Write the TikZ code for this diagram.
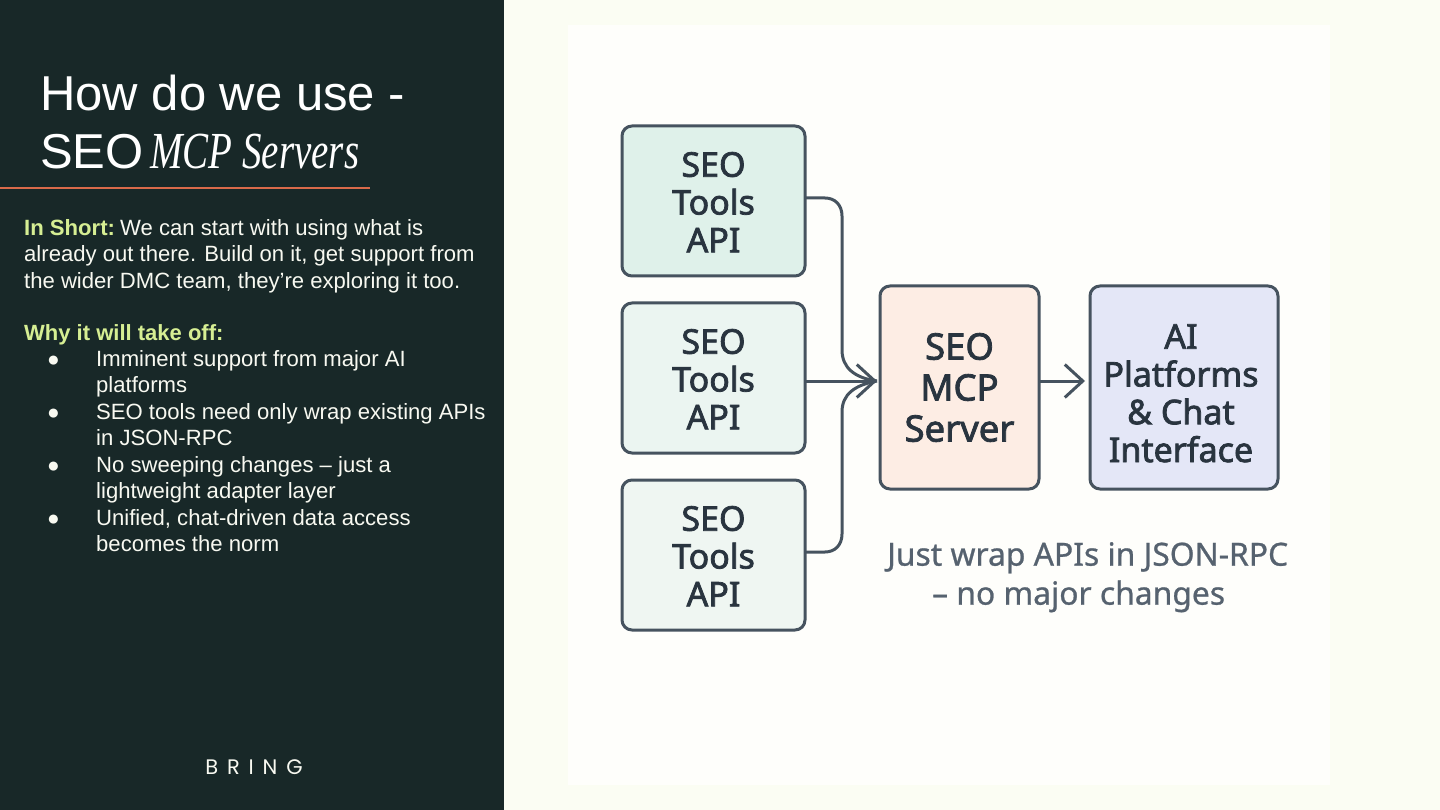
\documentclass[tikz,border=0pt]{standalone}
\usepackage{fontspec}
\setmainfont{Liberation Sans}
\newfontfamily\titleserif[FakeStretch=0.75]{Liberation Serif}
\newfontfamily\boxfont[FakeBold=2.2]{Noto Sans}
\newfontfamily\capfont[FakeBold=0.8]{Noto Sans}
\newfontfamily\logofont[LetterSpace=42]{Poppins}
\usetikzlibrary{arrows.meta,positioning}
\definecolor{panelgreen}{HTML}{182828}
\definecolor{pagecream}{HTML}{FBFDF3}
\definecolor{sheetwhite}{HTML}{FEFEFB}
\definecolor{ruleorange}{HTML}{D96A4A}
\definecolor{limetext}{HTML}{D6EE93}
\definecolor{softwhite}{HTML}{F8F9F1}
\definecolor{slate}{HTML}{46535F}
\definecolor{boxink}{HTML}{29343F}
\definecolor{capink}{HTML}{56626F}
\definecolor{toolA}{HTML}{DFF1EA}
\definecolor{toolB}{HTML}{EBF5F1}
\definecolor{toolC}{HTML}{EFF6F2}
\definecolor{serverpeach}{HTML}{FDEDE4}
\definecolor{chatblue}{HTML}{E4E7F7}
\tikzset{
  box/.style={
    draw=slate, line width=3pt, rounded corners=10pt, align=center, outer sep=0pt,
    text=boxink, font=\boxfont\fontsize{34}{37.8}\selectfont, inner sep=0pt
  },
  toolbox/.style={box, minimum width=183pt, minimum height=150pt},
  serverbox/.style={box, minimum height=203pt},
  link/.style={line width=3pt, draw=slate, rounded corners=0pt},
  tip/.style={-{Straight Barb[length=18pt, width=33pt, line width=3pt]}},
  body/.style={anchor=north west, align=left, inner sep=0pt, text=softwhite,
    font=\fontsize{22.1}{26.4}\selectfont},
  lime/.style={body, text=limetext}
}
\newcommand{\hl}[1]{\textcolor{limetext}{\textbf{#1}}}

\begin{document}
\begin{tikzpicture}[x=1pt, y=-1pt]
  \useasboundingbox (0,0) rectangle (1440,810);
  \fill[pagecream] (0,0) rectangle (1440,810);
  \fill[panelgreen] (0,0) rectangle (504,810);
  \fill[sheetwhite] (568,25) rectangle (1330,785);

  % left panel
  \node[body, text=white, font=\fontsize{49}{58}\selectfont] (title) at (40,75)
    {How do we use -\\SEO\hspace{-7pt} {\titleserif\itshape\fontsize{52}{58}\selectfont MCP Servers}};
  \coordinate (ruleA) at (0,188);
  \coordinate (ruleB) at (370,188);
  \draw[ruleorange, line width=2pt] (ruleA) -- (ruleB);
  \node[body] (short) at (24,219)
    {\hl{In Short:}\hspace{-3pt} We can start with using what is\\
     already out there. Build on it, get support from\\
     the wider DMC team, they’re exploring it too.};
  \node[lime, font=\bfseries\fontsize{22}{26.4}\selectfont] (why) at (24,324) {Why it will take off:};
  \foreach \y/\name/\txt in {
    350/one/{Imminent support from major AI\\platforms},
    403/two/{SEO tools need only wrap existing APIs\\in JSON-RPC},
    456/three/{No sweeping changes – just a\\lightweight adapter layer},
    509/four/{Unified, chat-driven data access\\becomes the norm}}{
    \node[body] (\name) at (96,\y) {\txt};
    \node[body, font=\fontsize{21}{24}\selectfont, yshift=-6pt] (dot\name) at (47,\y) {●};
  }
  \node[text=softwhite, font=\logofont\fontsize{21}{24}\selectfont, inner sep=0pt] (logo) at (254,767) {BRING};

  % right diagram
  \node[toolbox, fill=toolA, anchor=north west] (tools1) at (622,126) {\rule{0pt}{27pt}SEO\\Tools\\API};
  \node[toolbox, fill=toolB, below=27pt of tools1] (tools2) {\rule{0pt}{27pt}SEO\\Tools\\API};
  \node[toolbox, fill=toolC, below=27pt of tools2] (tools3) {\rule{0pt}{27pt}SEO\\Tools\\API};
  \node[serverbox, fill=serverpeach, minimum width=159pt, anchor=north west,
    font=\boxfont\fontsize{36.5}{41}\selectfont] (mcp) at (880,286) {SEO\\MCP\\Server};
  \node[serverbox, fill=chatblue, minimum width=188pt, right=51pt of mcp] (chat)
    {\rule{0pt}{36pt}\hspace*{-6pt}AI\\\hspace*{-6pt}Platforms\\\hspace*{-6pt}\&\ Chat\\\hspace*{-6pt}Interface};
  \node[anchor=north west, align=left, inner sep=0pt, text=capink,
    font=\capfont\fontsize{31.8}{39}\selectfont] (note) at (887,542)
    {Just wrap APIs in JSON-RPC\\\hspace*{45pt}– no major changes};

  \coordinate (merge) at ([xshift=-3pt, yshift=6.5pt]mcp.west);
  \draw[link] ([yshift=3pt]tools1.east) -- ++(20,0)
    .. controls ++(10,0) and (842,205) .. (842,216) -- (842,350)
    .. controls (842,368) and (855,378) .. (merge);
  \draw[link] ([yshift=3pt]tools3.east) -- ++(20,0)
    .. controls ++(10,0) and (842,545) .. (842,534) -- (842,412)
    .. controls (842,394) and (855,385) .. (merge);
  \draw[link, tip] (tools2.east |- merge) -- (merge);
  \draw[link, tip] ([yshift=6.5pt]mcp.east) -- ([xshift=-5pt, yshift=6.5pt]chat.west);
\end{tikzpicture}
\end{document}
